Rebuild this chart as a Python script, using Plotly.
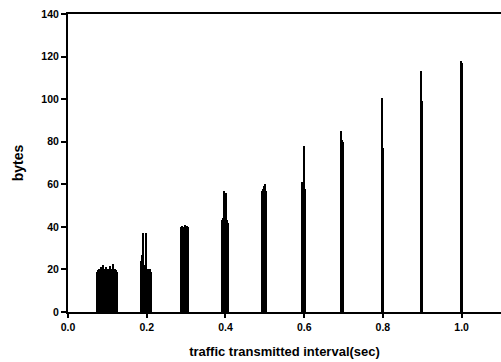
import plotly.graph_objects as go

# Packet sizes (bytes) observed around each transmit interval (sec)
t_010 = [0.074, 0.076, 0.078, 0.080, 0.082, 0.084, 0.086, 0.088, 0.090, 0.092, 0.094, 0.096, 0.098, 0.100,
         0.102, 0.104, 0.106, 0.108, 0.110, 0.112, 0.114, 0.116, 0.118, 0.120, 0.122, 0.124, 0.126]
b_010 = [19, 19.5, 19, 20, 19.5, 21, 19, 20, 22, 19.5, 20, 21, 19, 20,
         19.5, 20, 19, 21.5, 19, 20, 22.5, 19.5, 19, 20, 19.5, 19, 19]

t_020 = [0.186, 0.188, 0.190, 0.191, 0.192, 0.194, 0.196, 0.198, 0.199, 0.200, 0.202, 0.204, 0.206, 0.208, 0.210, 0.212]
b_020 = [24, 27, 37, 27, 26, 22, 20, 21, 37, 20, 20, 19.5, 20, 20, 19.5, 19]

t_030 = [0.287, 0.289, 0.291, 0.293, 0.295, 0.297, 0.299, 0.301, 0.303, 0.305]
b_030 = [40, 40.5, 40, 39.5, 40, 41, 40, 40, 40.5, 40]

t_040 = [0.392, 0.394, 0.396, 0.398, 0.400, 0.402, 0.404, 0.406]
b_040 = [43, 44, 56, 57, 45, 56, 43, 42]

t_050 = [0.494, 0.496, 0.498, 0.500, 0.502, 0.504]
b_050 = [57, 58, 59, 60, 58, 57]

t_060 = [0.595, 0.597, 0.599, 0.601, 0.603]
b_060 = [61, 60, 78, 59, 58]

t_070 = [0.694, 0.696, 0.698, 0.700]
b_070 = [85, 81, 80, 79]

t_080 = [0.798, 0.800]
b_080 = [100.5, 77]

t_090 = [0.898, 0.900]
b_090 = [113, 99]

t_100 = [0.999, 1.001]
b_100 = [118, 117]

x_ticks = [0.0, 0.2, 0.4, 0.6, 0.8, 1.0]
y_ticks = [0, 20, 40, 60, 80, 100, 120, 140]

times = t_010 + t_020 + t_030 + t_040 + t_050 + t_060 + t_070 + t_080 + t_090 + t_100
sizes = b_010 + b_020 + b_030 + b_040 + b_050 + b_060 + b_070 + b_080 + b_090 + b_100

fig = go.Figure(go.Bar(
    x=times, y=sizes, width=0.0036,
    marker=dict(color="black", line=dict(width=0)),
))

font_family = "Liberation Sans, Arial, sans-serif"

fig.update_layout(
    width=501, height=362,
    margin=dict(l=68, r=0, t=14, b=50),
    paper_bgcolor="white", plot_bgcolor="white",
    showlegend=False, bargap=0,
    font=dict(family=font_family, color="black"),
)

fig.update_xaxes(
    range=[0, 1.1], tickvals=x_ticks, ticktext=[f"{v:.1f}" for v in x_ticks],
    showgrid=False, zeroline=False,
    showline=True, linecolor="black", linewidth=2, mirror=True,
    ticks="outside", ticklen=4, tickwidth=1.5, tickcolor="black",
    tickfont=dict(size=10.5, weight="bold"),
    title=dict(text="traffic transmitted interval(sec)", font=dict(size=13, weight="bold"), standoff=15),
)
fig.update_yaxes(
    range=[0, 140], tickvals=y_ticks,
    showgrid=False, zeroline=False,
    showline=True, linecolor="black", linewidth=2,
    ticks="outside", ticklen=5, tickwidth=1.5, tickcolor="black",
    tickfont=dict(size=10.5, weight="bold"),
    title=dict(text="bytes", font=dict(size=14, weight="bold"), standoff=14),
)

fig.write_html("out.html")
